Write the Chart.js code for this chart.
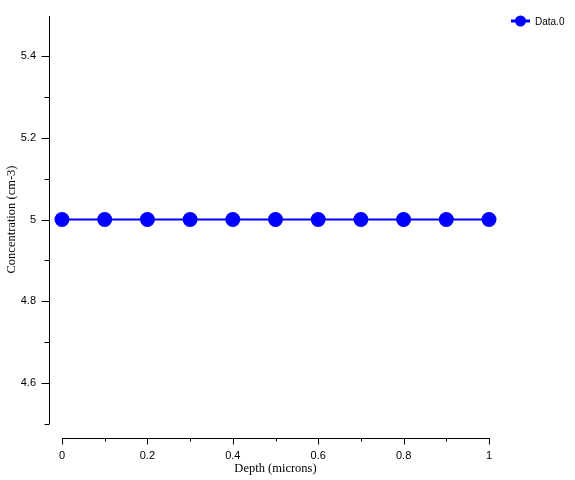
<!DOCTYPE html>
<html>
<head>
<meta charset="utf-8">
<script src="https://cdn.jsdelivr.net/npm/chart.js@4/dist/chart.umd.min.js"></script>
<style>
  html, body { margin: 0; padding: 0; background: #fff; }
  #wrap { width: 575px; height: 480px; }
</style>
</head>
<body>
<div id="wrap"><canvas id="myChart" width="575" height="480"></canvas></div>
<script>
// дані графіка
const depth = [0, 0.1, 0.2, 0.3, 0.4, 0.5, 0.6, 0.7, 0.8, 0.9, 1];
const concentration = [5, 5, 5, 5, 5, 5, 5, 5, 5, 5, 5];
const seriesName = 'Data.0';
const xTitle = 'Depth (microns)';
const yTitle = 'Concentration (cm-3)';

const blue = '#0000ff';
const tickFont = { family: 'Liberation Sans, Arial, sans-serif', size: 11 };
const titleFont = { family: 'Liberation Serif, Times New Roman, serif', size: 12.5 };

// підпис лише для парних десятих (0, 0.2, 0.4 ...)
function evenLabel(v) {
  const t = Math.round(v * 10);
  return t % 2 === 0 ? String(t / 10) : '';
}

// осі відсунуті від області графіка + легенда справа зверху
const axesPlugin = {
  id: 'detachedAxes',
  afterDraw(chart) {
    const ctx = chart.ctx;
    const xs = chart.scales.x, ys = chart.scales.y;
    const area = chart.chartArea;
    ctx.save();
    ctx.strokeStyle = '#000';
    ctx.lineWidth = 1;

    // вісь Y
    const ax = Math.round(area.left - 13) + 0.5;
    ctx.beginPath();
    ctx.moveTo(ax, ys.getPixelForValue(ys.max) + 1);
    ctx.lineTo(ax, ys.getPixelForValue(ys.min));
    ys.ticks.forEach(t => {
      if (Math.abs(t.value - ys.max) < 1e-9) return;
      const y = Math.round(ys.getPixelForValue(t.value)) + 0.5;
      const len = evenLabel(t.value) ? 8 : 5;
      ctx.moveTo(ax, y);
      ctx.lineTo(ax - len, y);
    });
    ctx.stroke();

    // вісь X
    const ay = Math.round(area.bottom + 14) + 0.5;
    ctx.beginPath();
    ctx.moveTo(xs.getPixelForValue(xs.min), ay);
    ctx.lineTo(xs.getPixelForValue(xs.max) + 1, ay);
    xs.ticks.forEach(t => {
      const x = Math.round(xs.getPixelForValue(t.value)) + 0.5;
      const len = evenLabel(t.value) ? 6 : 3;
      ctx.moveTo(x, ay);
      ctx.lineTo(x, ay + len);
    });
    ctx.stroke();

    // легенда
    const ds = chart.data.datasets[0];
    const ly = 21;
    ctx.strokeStyle = ds.borderColor;
    ctx.lineWidth = 3;
    ctx.beginPath();
    ctx.moveTo(511, ly);
    ctx.lineTo(530, ly);
    ctx.stroke();
    ctx.fillStyle = ds.backgroundColor;
    ctx.beginPath();
    ctx.arc(520.5, ly, 5.5, 0, Math.PI * 2);
    ctx.fill();
    ctx.fillStyle = '#000';
    ctx.font = '10px ' + tickFont.family;
    ctx.textBaseline = 'middle';
    ctx.fillText(ds.label, 535, ly + 1);
    ctx.restore();
  }
};

const ctx = document.getElementById('myChart').getContext('2d');

const myChart = new Chart(ctx, {
  type: 'line',
  data: {
    labels: depth,
    datasets: [{
      label: seriesName,
      data: depth.map((d, i) => ({ x: d, y: concentration[i] })),
      borderColor: blue,
      backgroundColor: blue,
      borderWidth: 2,
      pointRadius: 7.5,
      pointHoverRadius: 7.5,
      pointBorderWidth: 0,
      clip: false,
      fill: false,
    }],
  },
  options: {
    responsive: false,
    animation: false,
    events: [],
    layout: { padding: { top: 15, right: 86, left: 0, bottom: 0 } },
    plugins: { legend: { display: false }, tooltip: { enabled: false } },
    scales: {
      x: {
        type: 'linear',
        min: 0,
        max: 1,
        grid: { display: false, drawTicks: false },
        border: { display: false },
        ticks: {
          stepSize: 0.1,
          autoSkip: false,
          maxRotation: 0,
          padding: 25,
          color: '#000',
          font: tickFont,
          callback: evenLabel,
        },
        title: { display: true, text: xTitle, color: '#000', font: titleFont, padding: 4 },
        afterFit(s) { s.height = 56; s.paddingLeft = 0; s.paddingRight = 0; },
      },
      y: {
        min: 4.5,
        max: 5.5,
        grid: { display: false, drawTicks: false },
        border: { display: false },
        ticks: {
          stepSize: 0.1,
          autoSkip: false,
          padding: 26,
          color: '#000',
          font: tickFont,
          callback: evenLabel,
        },
        title: { display: true, text: yTitle, color: '#000', font: titleFont, padding: 4 },
        afterFit(s) { s.width = 62; s.paddingTop = 0; s.paddingBottom = 0; },
      },
    },
  },
  plugins: [axesPlugin],
});
</script>
</body>
</html>
